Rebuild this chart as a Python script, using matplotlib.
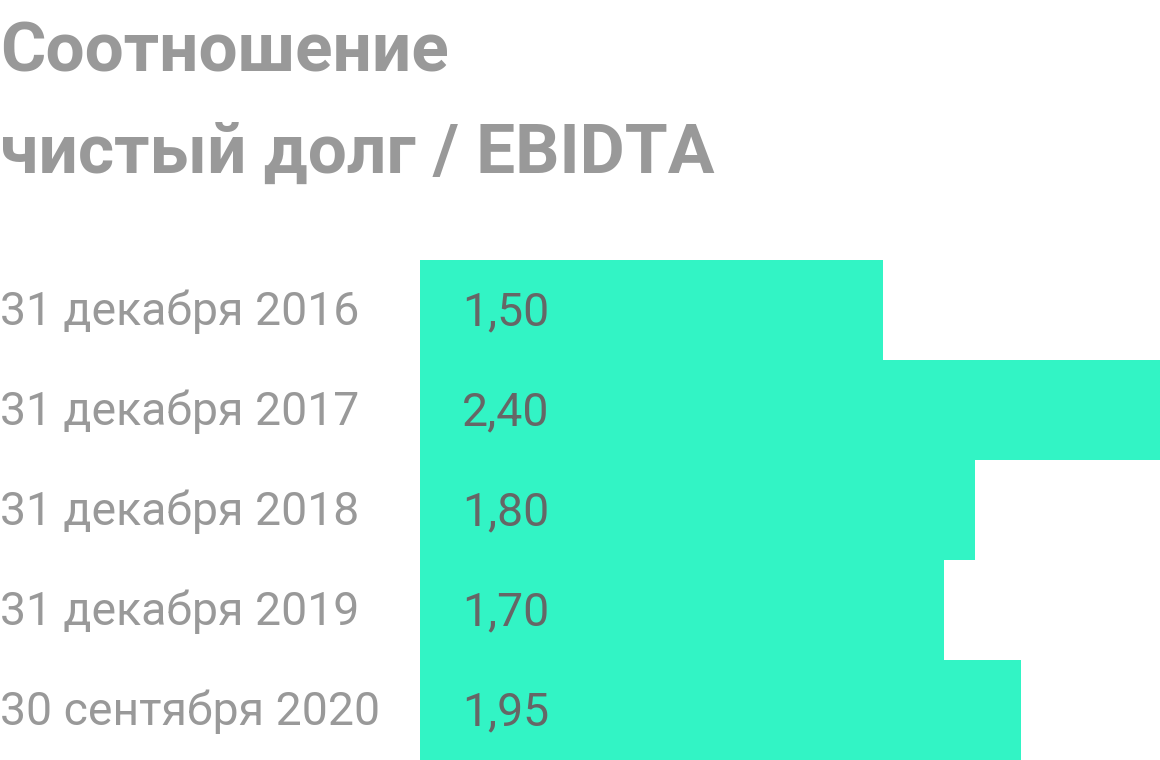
import matplotlib
matplotlib.use("Agg")
import matplotlib.pyplot as plt
from matplotlib.transforms import blended_transform_factory

title_lines = ["Соотношение", "чистый долг / EBIDTA"]
categories = ["31 декабря 2016", "31 декабря 2017", "31 декабря 2018",
              "31 декабря 2019", "30 сентября 2020"]
values = [1.50, 2.40, 1.80, 1.70, 1.95]
value_labels = ["1,50", "2,40", "1,80", "1,70", "1,95"]

W, H = 1160, 760
fig = plt.figure(figsize=(W / 100, H / 100), dpi=100)
fig.patch.set_facecolor("white")

ax = fig.add_axes([420 / W, 0, 740 / W, 500 / H])
ypos = list(range(len(categories)))
ax.barh(ypos, values, height=1.0, color="#32F4C5", linewidth=0)
ax.set_xlim(0, 2.4)
ax.set_ylim(len(categories) - 0.5, -0.5)
ax.axis("off")

fig_x = blended_transform_factory(fig.transFigure, ax.transData)
ax_x = blended_transform_factory(ax.transAxes, ax.transData)
for i, (cat, lab) in enumerate(zip(categories, value_labels)):
    ax.text(0.0, i + 0.15, cat, transform=fig_x, ha="left", va="baseline",
            fontsize=33.4, family="Roboto", color="#999999")
    ax.text(42 / 740, i + 0.15, lab, transform=ax_x, ha="left", va="baseline",
            fontsize=33.4, family="Roboto", color="#666666")

fig.text(0 / W, 1 - 72 / H, title_lines[0], ha="left", va="baseline",
         fontsize=50, fontweight="bold", family="Roboto", color="#999999")
fig.text(0 / W, 1 - 173 / H, title_lines[1], ha="left", va="baseline",
         fontsize=50, fontweight="bold", family="Roboto", color="#999999")

fig.savefig("out.png", dpi=100, facecolor="white")
